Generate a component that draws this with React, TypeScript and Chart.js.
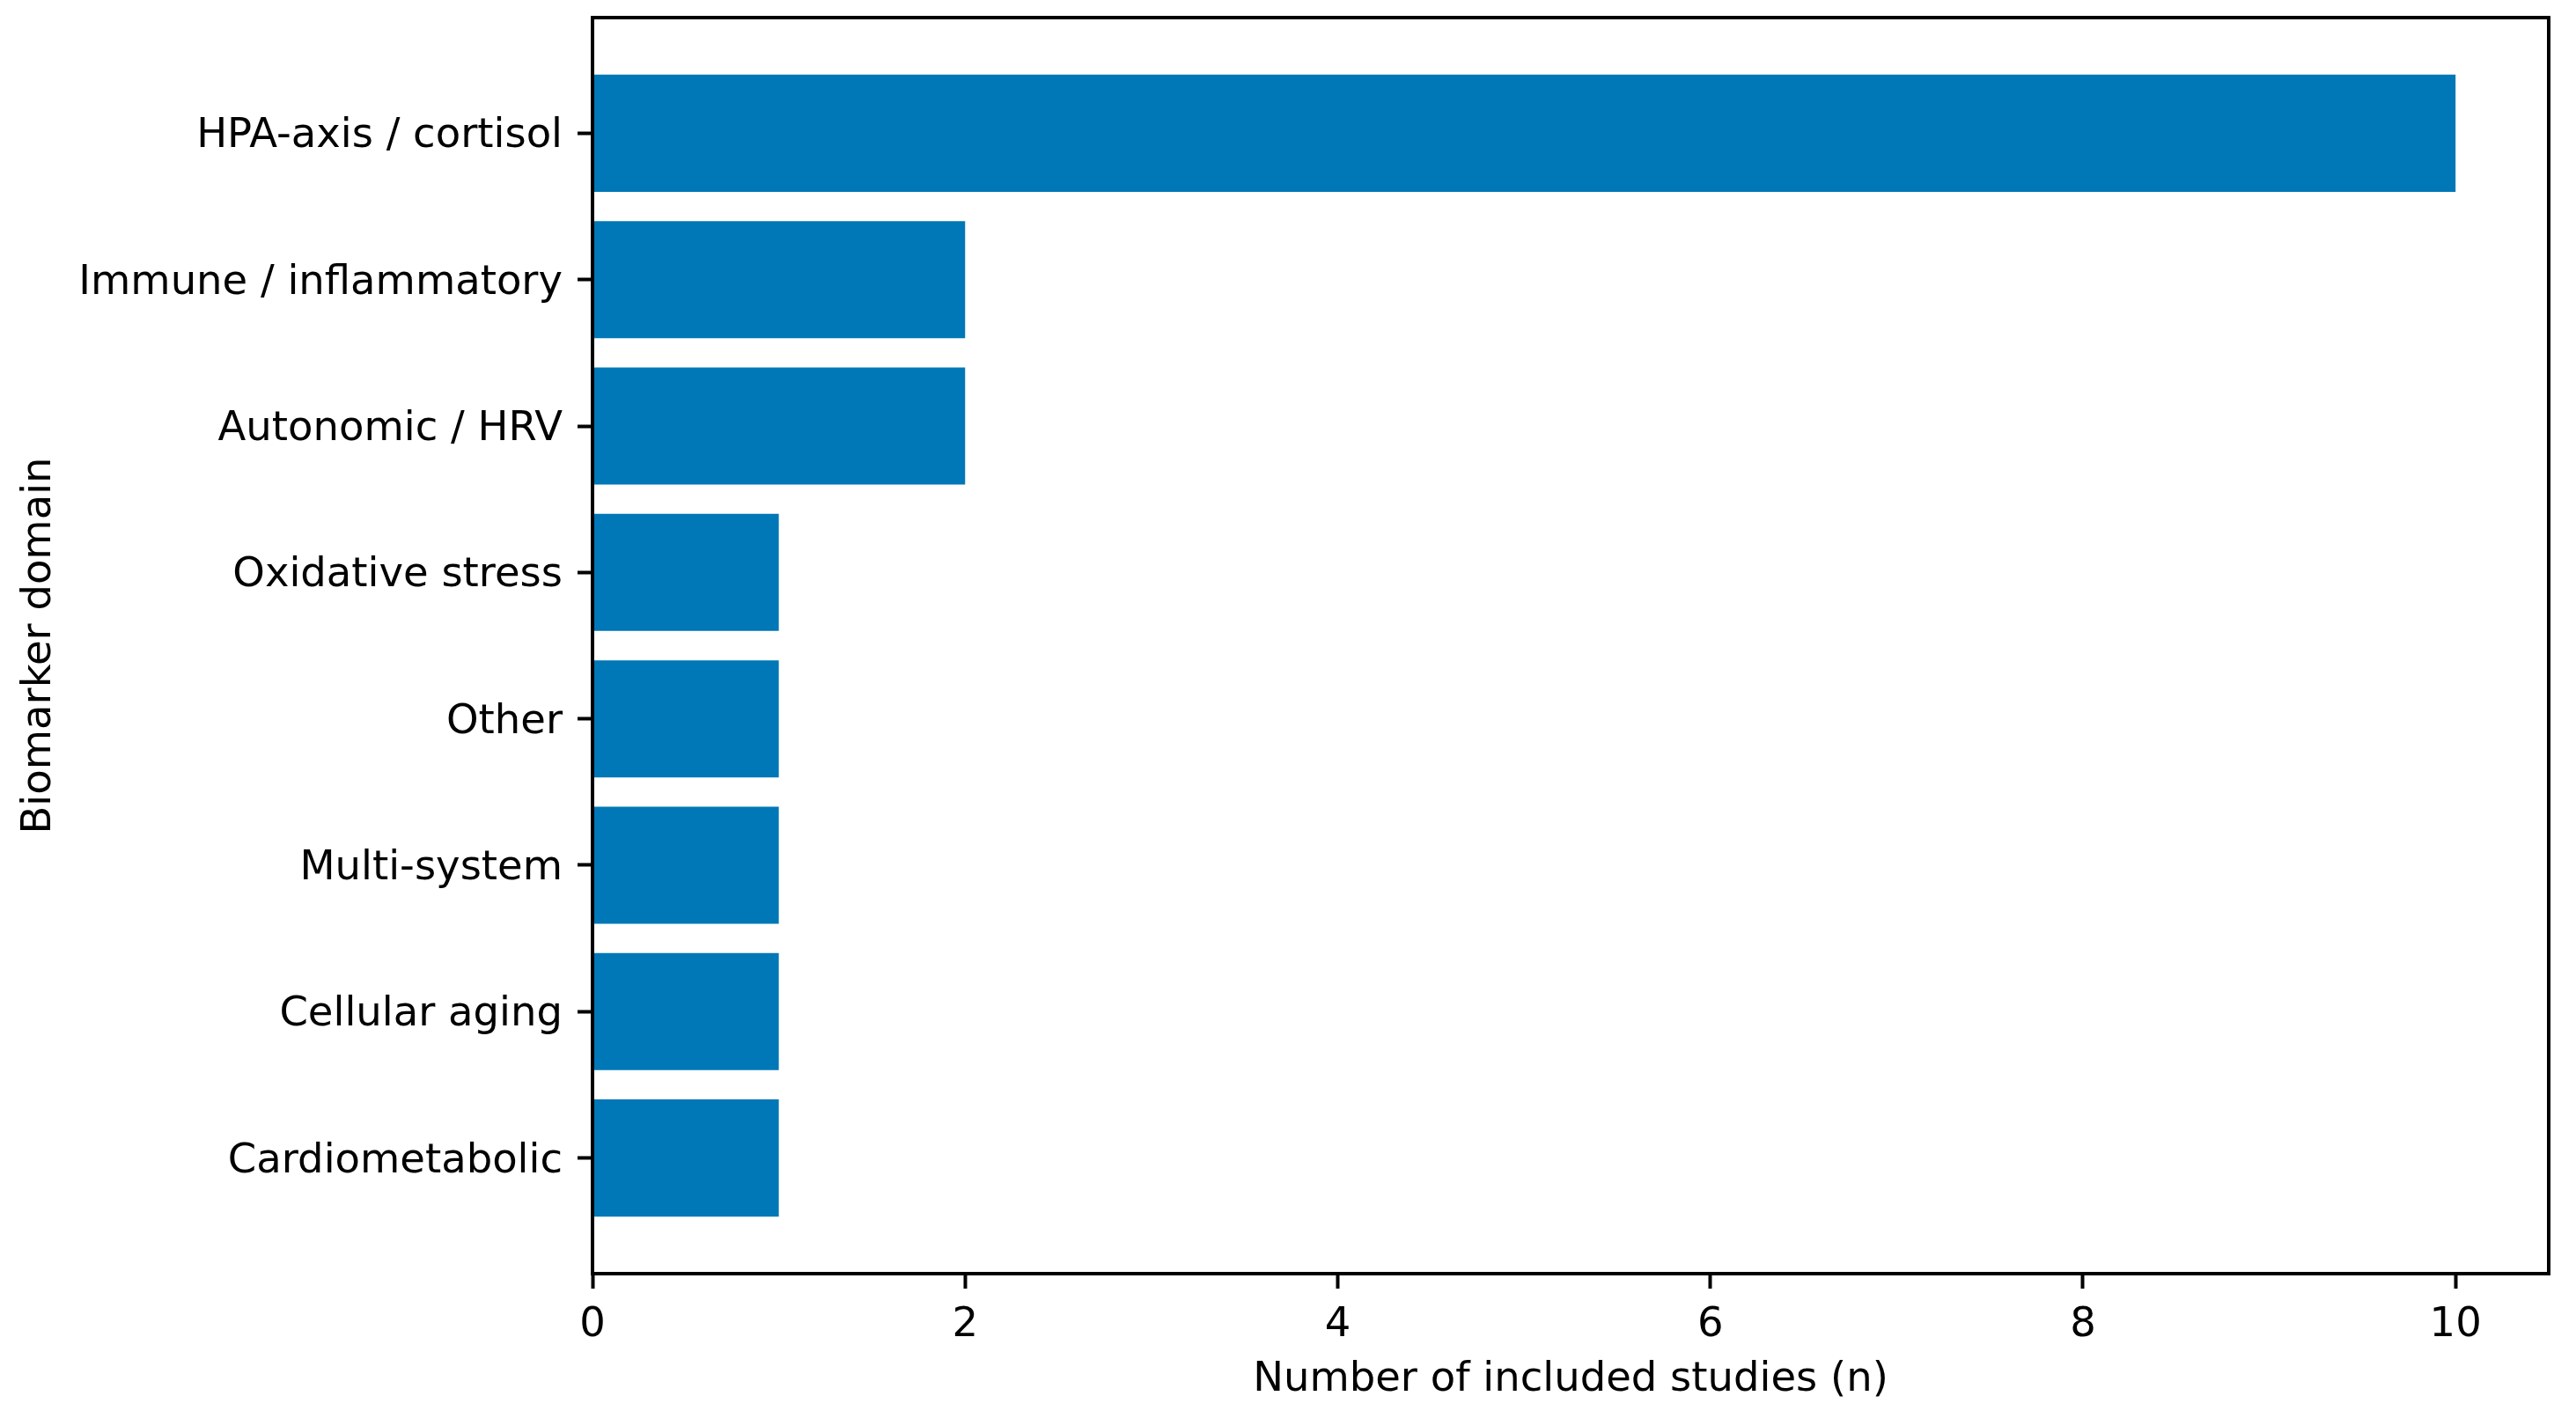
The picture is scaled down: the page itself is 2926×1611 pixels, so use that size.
import React, { useEffect, useRef } from "react";
import { Chart, registerables } from "chart.js";

Chart.register(...registerables);

const categories: string[] = [
  "HPA-axis / cortisol",
  "Immune / inflammatory",
  "Autonomic / HRV",
  "Oxidative stress",
  "Other",
  "Multi-system",
  "Cellular aging",
  "Cardiometabolic",
];
const studyCounts: number[] = [10, 2, 2, 1, 1, 1, 1, 1];
const xTickValues: number[] = [0, 2, 4, 6, 8, 10];

const FONT = "'DejaVu Sans', sans-serif";
const FONT_SIZE = 46.5;

const boxPlugin = {
  id: "boxSpines",
  afterDatasetsDraw(chart: any) {
    const { ctx, chartArea } = chart;
    ctx.save();
    ctx.strokeStyle = "#000";
    ctx.lineWidth = 4;
    ctx.lineJoin = "miter";
    ctx.strokeRect(chartArea.left, chartArea.top, chartArea.right - chartArea.left, chartArea.bottom - chartArea.top);
    ctx.restore();
  },
};

export default function App() {
  const ref = useRef<HTMLCanvasElement | null>(null);
  useEffect(() => {
    if (!ref.current) return;
    const chart = new Chart(ref.current, {
      type: "bar",
      data: {
        datasets: [
          {
            data: categories.map((_, i) => ({ x: studyCounts[i], y: i })),
            backgroundColor: "#0077b6",
            borderWidth: 0,
            categoryPercentage: 1,
            barPercentage: 0.8,
          },
        ],
      },
      options: {
        indexAxis: "y",
        responsive: false,
        animation: false,
        devicePixelRatio: 1,
        layout: { padding: { top: 20, right: 31, left: 0, bottom: 0 } },
        plugins: { legend: { display: false }, tooltip: { enabled: false } },
        scales: {
          x: {
            type: "linear",
            position: "bottom",
            min: 0,
            max: 10.5,
            offset: false,
            afterBuildTicks: (scale: any) => {
              scale.ticks = xTickValues.map((v) => ({ value: v }));
            },
            afterFit: (scale: any) => {
              scale.height = 164;
              scale.paddingLeft = 0;
              scale.paddingRight = 0;
            },
            border: { display: false },
            grid: {
              offset: false,
              drawOnChartArea: false,
              drawTicks: true,
              tickLength: 17,
              tickWidth: 4,
              tickColor: "#000",
            },
            ticks: {
              color: "#000",
              padding: 14,
              maxRotation: 0,
              autoSkip: false,
              font: { family: FONT, size: FONT_SIZE },
              callback: (v: any) => String(v),
            },
            title: {
              display: true,
              text: "Number of included studies (n)",
              color: "#000",
              font: { family: FONT, size: FONT_SIZE },
              padding: { top: 0, bottom: 15 },
            },
          },
          y: {
            type: "linear",
            position: "left",
            reverse: true,
            min: -0.79,
            max: 7.79,
            offset: false,
            afterBuildTicks: (scale: any) => {
              scale.ticks = categories.map((_, i) => ({ value: i }));
            },
            afterFit: (scale: any) => {
              scale.width = 673;
              scale.paddingTop = 0;
              scale.paddingBottom = 0;
            },
            border: { display: false },
            grid: {
              offset: false,
              drawOnChartArea: false,
              drawTicks: true,
              tickLength: 17,
              tickWidth: 4,
              tickColor: "#000",
            },
            ticks: {
              color: "#000",
              padding: 17,
              labelOffset: 4,
              autoSkip: false,
              font: { family: FONT, size: FONT_SIZE },
              callback: (v: any) => categories[Math.round(Number(v))] ?? "",
            },
            title: {
              display: true,
              text: "Biomarker domain",
              color: "#000",
              font: { family: FONT, size: FONT_SIZE },
              padding: { top: 17, bottom: 0 },
            },
          },
        },
      },
      plugins: [boxPlugin],
    } as any);
    return () => chart.destroy();
  }, []);
  return (
    <div style={{ position: "absolute", left: 0, top: 0, width: 2926, height: 1611, background: "#fff" }}>
      <canvas ref={ref} width={2926} height={1611} style={{ display: "block" }} />
    </div>
  );
}
